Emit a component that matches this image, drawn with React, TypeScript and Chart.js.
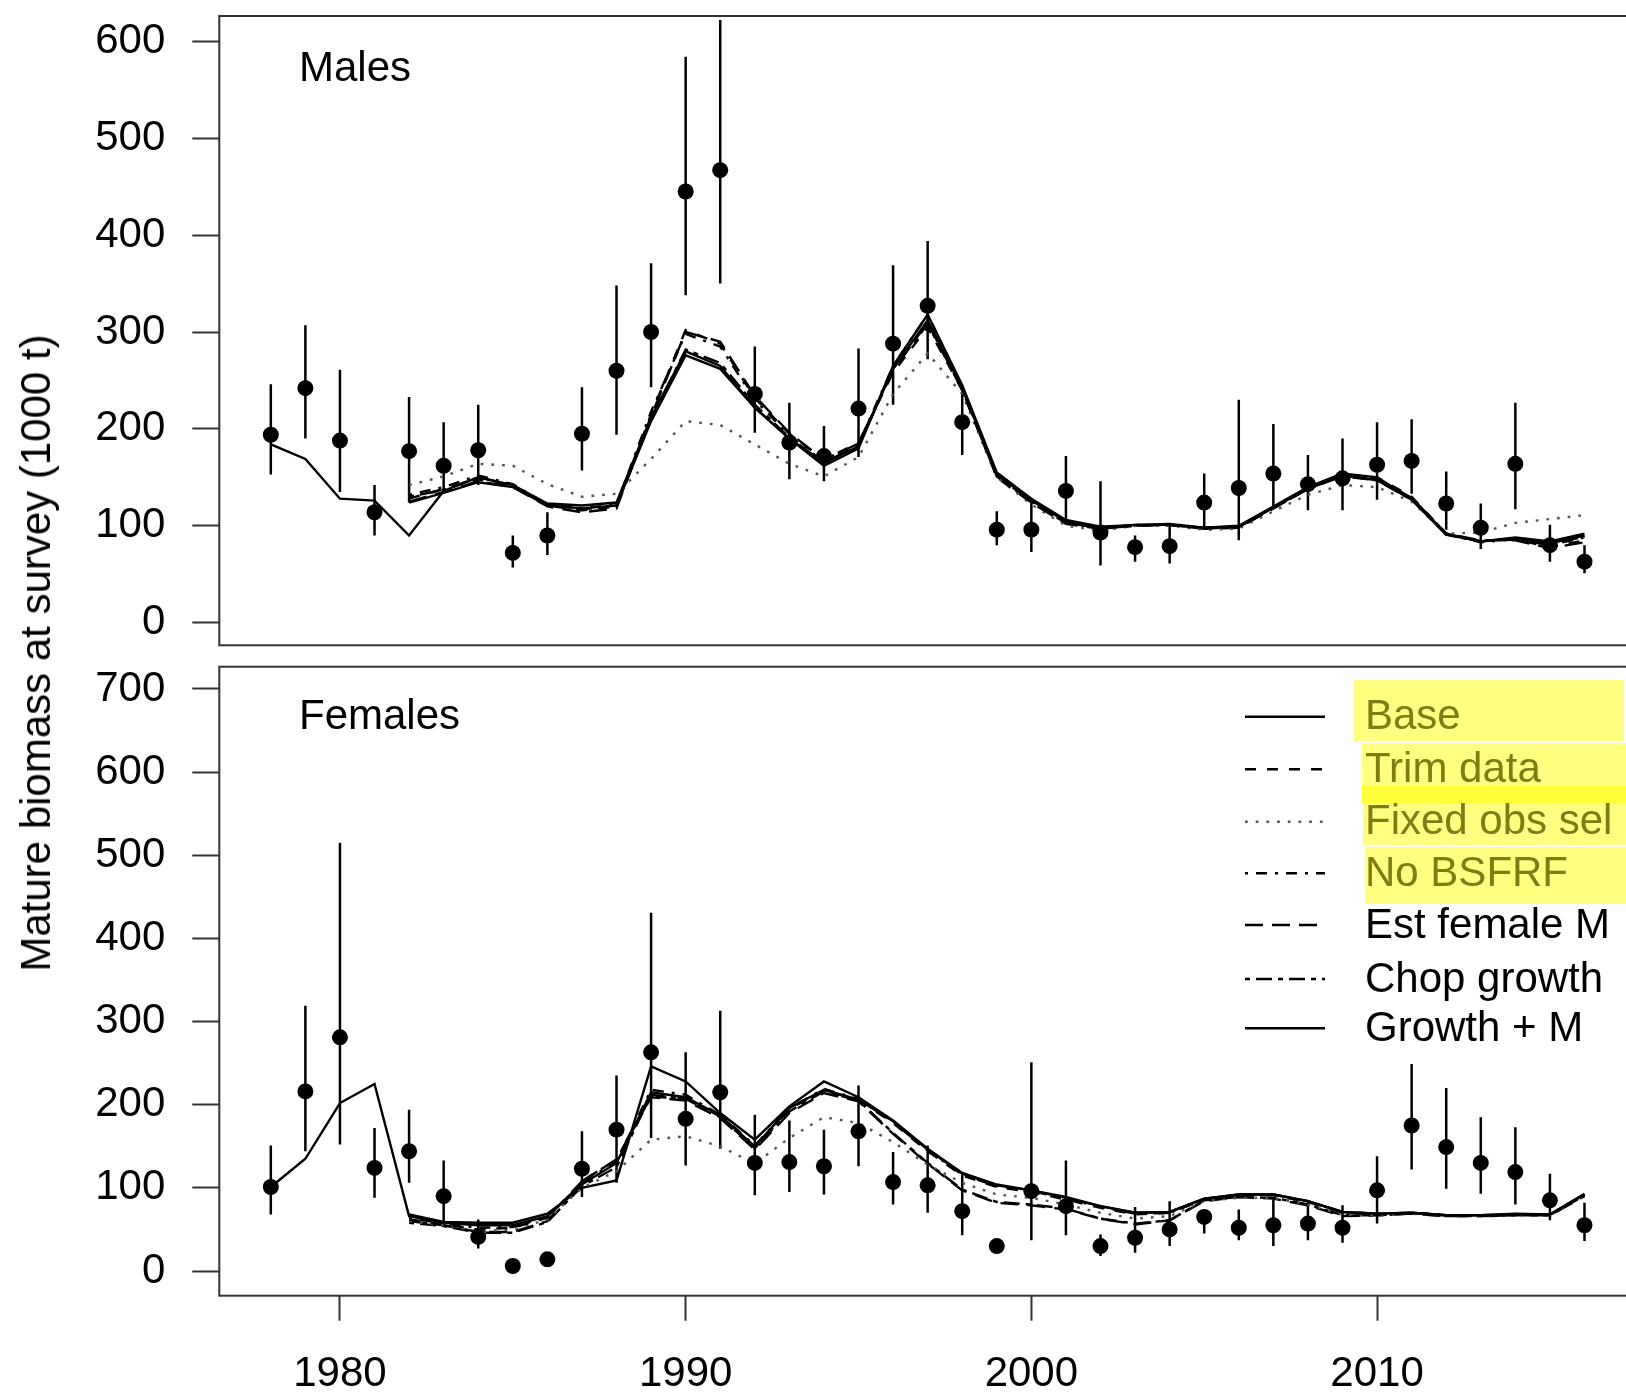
import React, { useEffect, useRef } from "react";
import { Chart, registerables } from "chart.js";
Chart.register(...registerables);

const FONT = "'Liberation Sans', Arial, Helvetica, sans-serif";

const years = [1978, 1979, 1980, 1981, 1982, 1983, 1984, 1985, 1986, 1987, 1988, 1989, 1990, 1991, 1992, 1993, 1994, 1995, 1996, 1997, 1998, 1999, 2000, 2001, 2002, 2003, 2004, 2005, 2006, 2007, 2008, 2009, 2010, 2011, 2012, 2013, 2014, 2015, 2016];
const xTicks = [1980, 1990, 2000, 2010];
const maleYTicks = [0, 100, 200, 300, 400, 500, 600];
const femaleYTicks = [0, 100, 200, 300, 400, 500, 600, 700];
const seriesNames = ["Base", "Trim data", "Fixed obs sel", "No BSFRF", "Est female M", "Chop growth", "Growth + M"];

// Observed survey biomass (males)
const maleObs = [194, 242, 188, 114, 177, 162, 178, 72, 90, 195, 260, 300, 445, 467, 236, 186, 172, 221, 288, 327, 207, 96, 96, 136, 93, 78, 79, 124, 139, 154, 143, 149, 163, 167, 123, 98, 164, 80, 63];
const maleHi = [246, 307, 261, 142, 233, 207, 225, 90, 114, 243, 348, 371, 584, 622, 285, 227, 203, 283, 369, 394, 242, 115, 125, 172, 146, 90, 102, 154, 230, 205, 173, 190, 207, 210, 156, 123, 227, 101, 80];
const maleLo = [153, 190, 135, 90, 124, 137, 142, 57, 70, 157, 194, 243, 338, 350, 196, 148, 146, 171, 225, 272, 173, 80, 73, 107, 59, 63, 61, 98, 85, 119, 116, 116, 127, 133, 96, 76, 117, 63, 51];

// Model fits (males)
const maleBase = [184, 169, 128, 126, 90, 136, 150, 142, 123, 121, 124, 212, 280, 265, 222, 190, 165, 182, 262, 312, 242, 153, 127, 104, 97, 101, 101, 98, 99, 119, 138, 152, 147, 127, 91, 84, 87, 82, 90];
const maleTrim = [null, null, null, null, 128, 138, 148, 141, 121, 116, 120, 215, 302, 288, 232, 195, 168, 186, 258, 305, 240, 150, 124, 103, 98, 100, 101, 97, 99, 118, 138, 153, 150, 130, 92, 84, 86, 78, 85];
const maleFixed = [null, null, null, null, 142, 151, 164, 162, 143, 130, 133, 169, 208, 204, 184, 164, 151, 171, 236, 278, 236, 150, 122, 100, 95, 100, 100, 96, 97, 115, 132, 142, 140, 125, 92, 93, 103, 107, 111];
const maleNoBSFRF = [null, null, null, null, 132, 140, 152, 143, 122, 118, 122, 218, 298, 285, 230, 193, 166, 184, 265, 318, 244, 154, 126, 105, 98, 101, 101, 98, 99, 119, 139, 153, 148, 128, 91, 83, 86, 80, 88];
const maleEstF = [null, null, null, null, 125, 135, 146, 140, 120, 114, 118, 213, 300, 290, 234, 196, 168, 185, 260, 310, 240, 151, 124, 102, 97, 100, 101, 97, 98, 118, 138, 152, 148, 129, 92, 85, 85, 77, 83];
const maleChop = [null, null, null, null, 130, 137, 150, 142, 122, 117, 121, 210, 282, 268, 225, 191, 165, 183, 262, 308, 241, 152, 125, 104, 97, 100, 101, 98, 99, 119, 138, 151, 147, 127, 91, 84, 87, 81, 89];
const maleGrowthM = [null, null, null, null, 124, 134, 145, 140, 121, 118, 121, 208, 276, 262, 222, 190, 162, 180, 265, 318, 245, 155, 128, 106, 99, 101, 102, 98, 100, 120, 140, 154, 150, 128, 92, 84, 88, 84, 92];

// Observed survey biomass (females)
const femObs = [101, 216, 281, 124, 144, 90, 41, 6, 14, 123, 170, 263, 183, 215, 130, 131, 126, 168, 107, 103, 72, 30, 96, 78, 30, 40, 50, 65, 52, 55, 57, 52, 97, 175, 149, 130, 119, 85, 55];
const femHi = [151, 319, 515, 172, 194, 133, 62, null, null, 168, 235, 431, 263, 313, 188, 181, 170, 223, 143, 151, 116, null, 251, 133, 44, 77, 84, 74, 74, 86, 84, 79, 138, 249, 220, 185, 173, 117, 82];
const femLo = [68, 144, 152, 88, 106, 53, 27, null, null, 89, 106, 160, 127, 147, 91, 95, 92, 126, 80, 70, 43, null, 37, 43, 18, 22, 30, 45, 37, 30, 37, 34, 57, 122, 99, 93, 80, 61, 36];

// Model fits (females)
const femBase = [101, 135, 202, 225, 66, 58, 55, 55, 66, 104, 130, 215, 209, 187, 150, 196, 218, 206, 180, 146, 117, 103, 97, 88, 78, 70, 71, 87, 92, 92, 84, 71, 69, 70, 67, 67, 68, 68, 92];
const femTrim = [null, null, null, null, 62, 56, 50, 52, 64, 108, 134, 210, 207, 185, 148, 195, 217, 206, 178, 144, 115, 101, 95, 86, 76, 68, 70, 86, 91, 91, 83, 70, 68, 70, 67, 67, 68, 68, 91];
const femFixed = [null, null, null, null, 60, 55, 48, 50, 62, 100, 120, 158, 162, 150, 129, 160, 185, 178, 155, 128, 106, 92, 88, 80, 70, 63, 66, 84, 88, 88, 80, 68, 67, 69, 67, 67, 67, 67, 90];
const femNoBSFRF = [null, null, null, null, 64, 57, 52, 53, 65, 106, 132, 218, 212, 188, 151, 196, 219, 207, 179, 145, 116, 102, 96, 87, 77, 69, 70, 86, 92, 92, 84, 71, 69, 70, 67, 67, 68, 68, 92];
const femEstF = [null, null, null, null, 60, 55, 47, 47, 60, 108, 134, 209, 205, 184, 146, 190, 214, 204, 165, 129, 97, 82, 79, 74, 63, 56, 61, 84, 89, 87, 79, 66, 67, 69, 66, 66, 67, 67, 90];
const femChop = [null, null, null, null, 58, 54, 46, 46, 59, 102, 125, 212, 207, 186, 148, 192, 216, 205, 166, 130, 98, 83, 80, 75, 63, 57, 61, 85, 89, 88, 80, 67, 67, 69, 66, 66, 67, 67, 91];
const femGrowthM = [null, null, null, null, 68, 59, 58, 58, 69, 100, 109, 246, 228, 190, 158, 198, 228, 209, 181, 147, 118, 104, 97, 89, 78, 70, 71, 87, 92, 92, 84, 71, 69, 70, 67, 67, 69, 68, 93];

const maleSeries = [maleBase, maleTrim, maleFixed, maleNoBSFRF, maleEstF, maleChop, maleGrowthM];
const femSeries = [femBase, femTrim, femFixed, femNoBSFRF, femEstF, femChop, femGrowthM];

// styles (not data)
const lineStyles = [
  { dash: [], color: "#000" },
  { dash: [11, 11], color: "#000" },
  { dash: [2.7, 8], color: "#555" },
  { dash: [3, 8, 11, 8], color: "#000" },
  { dash: [18, 9], color: "#000" },
  { dash: [5, 6, 16, 6], color: "#000" },
  { dash: [], color: "#000" },
];
const highlighted = [true, true, true, true, false, false, false];

const X_MIN = 1976.51;
const X_MAX = 2017.49;
const CANVAS_W = 1700;
const BOTTOM_TOP = 650;

function buildDatasets(obs: (number | null)[], series: (number | null)[][]) {
  const ds: any[] = [
    {
      type: "scatter",
      data: years.map((yr, i) => ({ x: yr, y: obs[i] })),
      pointRadius: 8,
      pointBackgroundColor: "#000",
      pointBorderWidth: 0,
      showLine: false,
      order: 0,
    },
  ];
  series.forEach((arr, k) => {
    ds.push({
      type: "line",
      label: seriesNames[k],
      data: years.map((yr, i) => ({ x: yr, y: arr[i] })),
      borderColor: lineStyles[k].color,
      borderWidth: 2.4,
      borderDash: lineStyles[k].dash,
      borderCapStyle: "butt",
      pointRadius: 0,
      fill: false,
      tension: 0,
      spanGaps: false,
      order: 1,
    });
  });
  return ds;
}

const boxPlugin = {
  id: "box",
  afterDraw(chart: any) {
    const { ctx, chartArea } = chart;
    ctx.save();
    ctx.strokeStyle = "#333";
    ctx.lineWidth = 2;
    ctx.strokeRect(chartArea.left, chartArea.top, chartArea.right - chartArea.left, chartArea.bottom - chartArea.top);
    ctx.restore();
  },
};

function errPlugin(lo: (number | null)[], hi: (number | null)[]) {
  return {
    id: "errbars",
    beforeDatasetsDraw(chart: any) {
      const { ctx, chartArea } = chart;
      const xs = chart.scales.x;
      const ys = chart.scales.y;
      ctx.save();
      ctx.beginPath();
      ctx.rect(chartArea.left, chartArea.top, chartArea.right - chartArea.left, chartArea.bottom - chartArea.top);
      ctx.clip();
      ctx.strokeStyle = "#000";
      ctx.lineWidth = 2.5;
      years.forEach((yr, i) => {
        if (lo[i] == null || hi[i] == null) return;
        const x = xs.getPixelForValue(yr);
        ctx.beginPath();
        ctx.moveTo(x, ys.getPixelForValue(lo[i]));
        ctx.lineTo(x, ys.getPixelForValue(hi[i]));
        ctx.stroke();
      });
      ctx.restore();
    },
  };
}

function labelPlugin(text: string, x: number, y: number) {
  return {
    id: "panelLabel",
    afterDraw(chart: any) {
      const { ctx } = chart;
      ctx.save();
      ctx.fillStyle = "#000";
      ctx.font = `42px ${FONT}`;
      ctx.textAlign = "left";
      ctx.textBaseline = "middle";
      ctx.fillText(text, x, y);
      ctx.restore();
    },
  };
}

const legendPlugin = {
  id: "customLegend",
  afterDraw(chart: any) {
    const { ctx } = chart;
    const off = BOTTOM_TOP;
    const rowsY = [716.7, 769.3, 821.7, 873.3, 925, 979, 1028.3];
    ctx.save();
    // highlights
    ctx.fillStyle = "#ffff80";
    ctx.fillRect(1354, 680 - off, 270, 61);
    ctx.fillRect(1362, 743 - off, 280, 43);
    ctx.fillStyle = "#ffff3a";
    ctx.fillRect(1362, 786 - off, 280, 17);
    ctx.fillStyle = "#ffff80";
    ctx.fillRect(1363, 803 - off, 280, 42);
    ctx.fillRect(1365, 847 - off, 280, 57);
    rowsY.forEach((ry, k) => {
      const y = ry - off;
      ctx.strokeStyle = lineStyles[k].color;
      ctx.lineWidth = 2.4;
      ctx.lineCap = "butt";
      ctx.setLineDash(lineStyles[k].dash);
      ctx.beginPath();
      ctx.moveTo(1245, y);
      ctx.lineTo(1325, y);
      ctx.stroke();
      ctx.setLineDash([]);
      ctx.fillStyle = highlighted[k] ? "#7d7d14" : "#000";
      ctx.font = `42px ${FONT}`;
      ctx.textAlign = "left";
      ctx.textBaseline = "middle";
      ctx.fillText(seriesNames[k], 1365, y + 1);
    });
    ctx.restore();
  },
};

function yAxis(min: number, max: number, ticks: number[]) {
  return {
    type: "linear",
    min,
    max,
    afterFit: (s: any) => {
      s.width = 219.3;
      s.paddingTop = 0;
      s.paddingBottom = 0;
    },
    afterBuildTicks: (s: any) => {
      s.ticks = ticks.map((v) => ({ value: v }));
    },
    grid: { drawOnChartArea: false, drawTicks: true, tickLength: 27, tickWidth: 2, tickColor: "#333" },
    border: { display: false },
    ticks: { padding: 27, color: "#000", font: { family: FONT, size: 42 }, callback: (v: any) => String(v) },
  };
}

export default function App() {
  const topRef = useRef<HTMLCanvasElement>(null);
  const botRef = useRef<HTMLCanvasElement>(null);

  useEffect(() => {
    document.body.style.margin = "0";
    document.body.style.overflow = "hidden";
    const top = new Chart(topRef.current as any, {
      type: "line",
      data: { datasets: buildDatasets(maleObs, maleSeries) },
      options: {
        animation: false,
        responsive: false,
        maintainAspectRatio: false,
        layout: { padding: { left: 0, right: CANVAS_W - 1636, top: 16, bottom: 660 - 645.3 } },
        plugins: { legend: { display: false }, tooltip: { enabled: false } },
        scales: {
          x: { type: "linear", min: X_MIN, max: X_MAX, display: false },
          y: yAxis(-23.3, 626.1, maleYTicks) as any,
        },
      } as any,
      plugins: [boxPlugin, errPlugin(maleLo, maleHi), labelPlugin("Males", 299, 69)],
    });
    const bot = new Chart(botRef.current as any, {
      type: "line",
      data: { datasets: buildDatasets(femObs, femSeries) },
      options: {
        animation: false,
        responsive: false,
        maintainAspectRatio: false,
        layout: { padding: { left: 0, right: CANVAS_W - 1636, top: 666.7 - BOTTOM_TOP, bottom: 0 } },
        plugins: { legend: { display: false }, tooltip: { enabled: false } },
        scales: {
          x: {
            type: "linear",
            min: X_MIN,
            max: X_MAX,
            afterFit: (s: any) => {
              s.height = 747 - (1295.7 - BOTTOM_TOP);
              s.paddingLeft = 0;
              s.paddingRight = 0;
            },
            afterBuildTicks: (s: any) => {
              s.ticks = xTicks.map((v) => ({ value: v }));
            },
            grid: { drawOnChartArea: false, drawTicks: true, tickLength: 25, tickWidth: 2, tickColor: "#333" },
            border: { display: false },
            ticks: { padding: 29, color: "#000", font: { family: FONT, size: 42 }, maxRotation: 0, callback: (v: any) => String(v) },
          },
          y: yAxis(-29.7, 726.8, femaleYTicks) as any,
        },
      } as any,
      plugins: [boxPlugin, errPlugin(femLo, femHi), labelPlugin("Females", 299, 717.7 - BOTTOM_TOP), legendPlugin],
    });
    return () => {
      top.destroy();
      bot.destroy();
    };
  }, []);

  return (
    <div style={{ position: "relative", width: 1626, height: 1397, overflow: "hidden", background: "#fff" }}>
      <canvas ref={topRef} width={CANVAS_W} height={660} style={{ position: "absolute", left: 0, top: 0, width: CANVAS_W, height: 660 }} />
      <canvas ref={botRef} width={CANVAS_W} height={747} style={{ position: "absolute", left: 0, top: BOTTOM_TOP, width: CANVAS_W, height: 747 }} />
      <div
        style={{
          position: "absolute",
          left: 36,
          top: 653,
          transform: "translate(-50%, -50%) rotate(-90deg)",
          font: `42px ${FONT}`,
          color: "#000",
          whiteSpace: "nowrap",
        }}
      >
        Mature biomass at survey (1000 t)
      </div>
    </div>
  );
}
